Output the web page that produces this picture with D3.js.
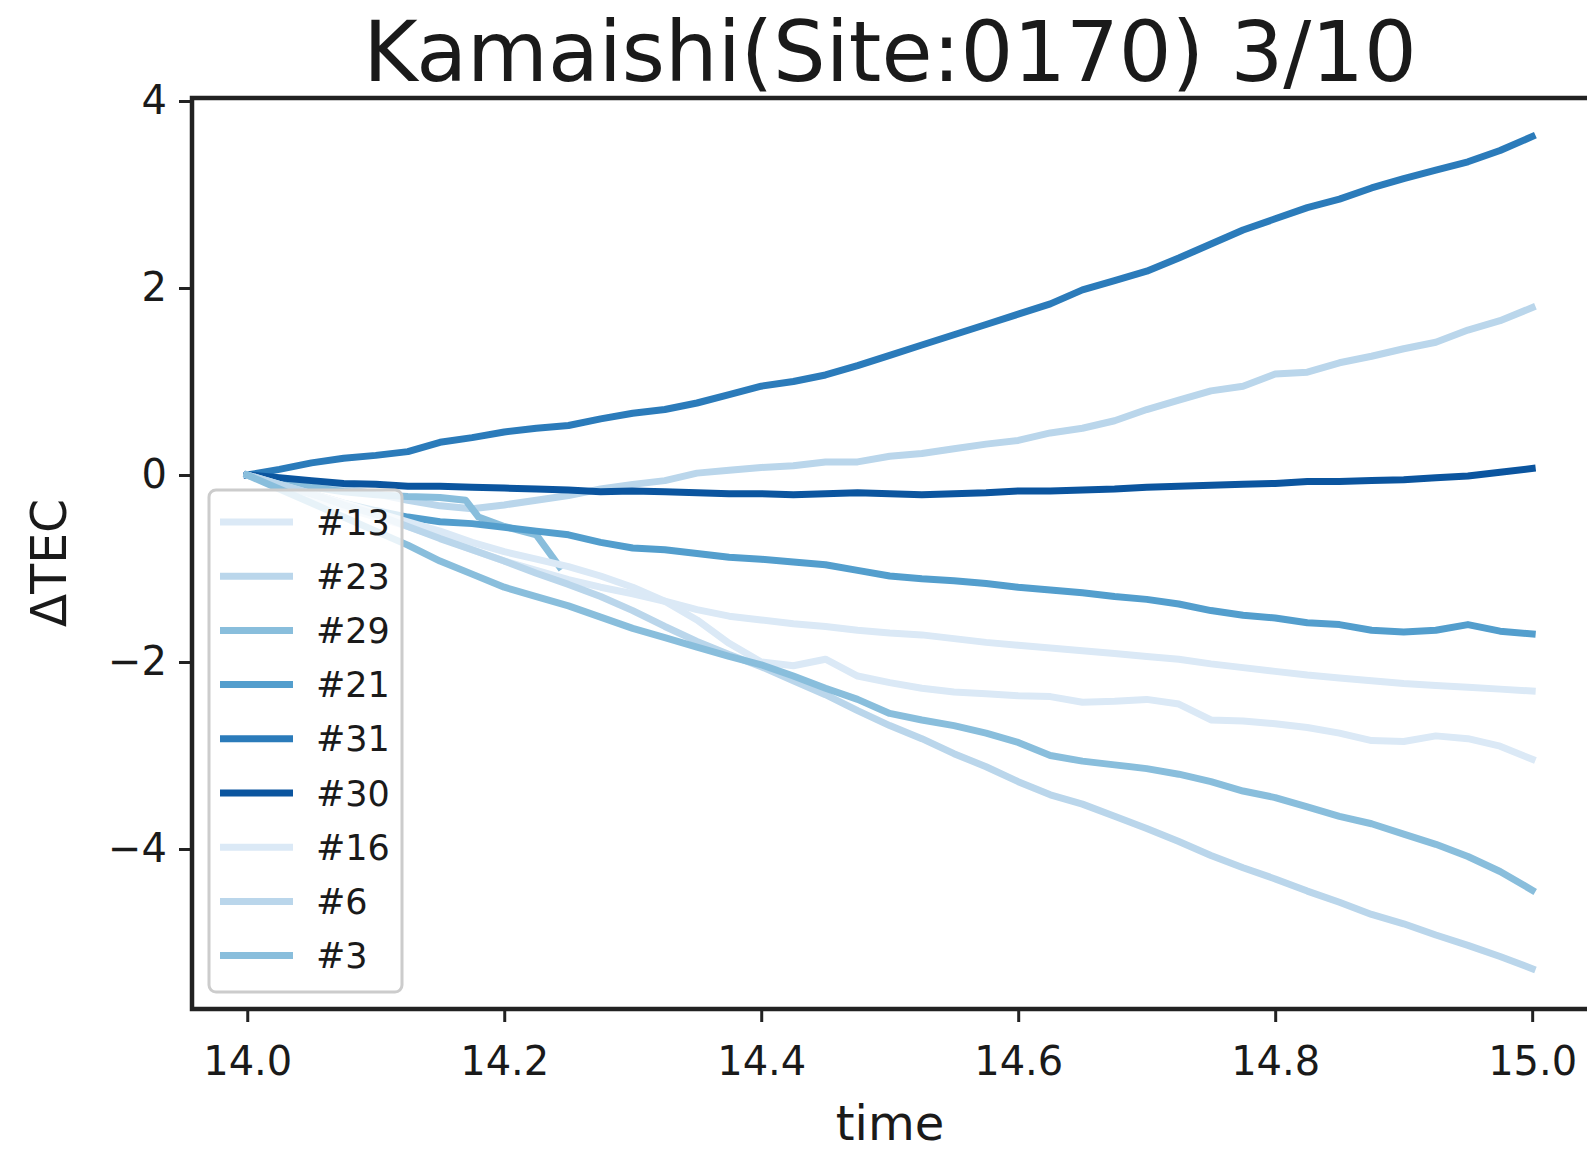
<!DOCTYPE html>
<html>
<head>
<meta charset="utf-8">
<script src="https://cdn.jsdelivr.net/npm/d3@7"></script>
<style>
  body { margin: 0; background: #fff; }
  text { font-family: "DejaVu Sans", sans-serif; fill: #1a1a1a; }
</style>
</head>
<body>
<div id="chart-area"></div>
<script>
// Kamaishi dTEC chart

const TITLE = "Kamaishi(Site:0170) 3/10";

// time grid (hours), 0.025 step
const times = d3.range(41).map(i => 14 + i * 0.025);

const sat13 = [0, -0.12, -0.24, -0.35, -0.45, -0.55, -0.67, -0.8, -0.92, -1.02, -1.12, -1.2, -1.27, -1.35, -1.44, -1.51, -1.55, -1.59, -1.62, -1.66, -1.69, -1.71, -1.75, -1.79, -1.82, -1.85, -1.88, -1.91, -1.94, -1.97, -2.02, -2.06, -2.1, -2.14, -2.17, -2.2, -2.23, -2.25, -2.27, -2.29, -2.31];
const sat23 = [0, -0.05, -0.1, -0.15, -0.2, -0.27, -0.33, -0.36, -0.32, -0.27, -0.22, -0.15, -0.1, -0.06, 0.02, 0.05, 0.08, 0.1, 0.14, 0.14, 0.2, 0.23, 0.28, 0.33, 0.37, 0.45, 0.5, 0.58, 0.7, 0.8, 0.9, 0.95, 1.08, 1.1, 1.2, 1.27, 1.35, 1.42, 1.55, 1.65, 1.79];
const sat29Times = [14.0, 14.025, 14.05, 14.075, 14.1, 14.125, 14.15, 14.17, 14.18, 14.2, 14.225, 14.243];
const sat29 = [0, -0.07, -0.13, -0.18, -0.21, -0.23, -0.24, -0.27, -0.45, -0.55, -0.64, -0.98];
const sat21 = [0, -0.1, -0.2, -0.3, -0.38, -0.45, -0.5, -0.52, -0.56, -0.6, -0.64, -0.72, -0.78, -0.8, -0.84, -0.88, -0.9, -0.93, -0.96, -1.02, -1.08, -1.11, -1.13, -1.16, -1.2, -1.23, -1.26, -1.3, -1.33, -1.38, -1.45, -1.5, -1.53, -1.58, -1.6, -1.66, -1.68, -1.66, -1.6, -1.67, -1.7];
const sat31 = [0, 0.06, 0.13, 0.18, 0.21, 0.25, 0.35, 0.4, 0.46, 0.5, 0.53, 0.6, 0.66, 0.7, 0.77, 0.86, 0.95, 1.0, 1.07, 1.17, 1.28, 1.39, 1.5, 1.61, 1.72, 1.83, 1.98, 2.08, 2.18, 2.32, 2.47, 2.62, 2.74, 2.86, 2.95, 3.07, 3.17, 3.26, 3.35, 3.47, 3.62];
const sat30 = [0, -0.03, -0.06, -0.09, -0.1, -0.12, -0.12, -0.13, -0.14, -0.15, -0.16, -0.18, -0.17, -0.18, -0.19, -0.2, -0.2, -0.21, -0.2, -0.19, -0.2, -0.21, -0.2, -0.19, -0.17, -0.17, -0.16, -0.15, -0.13, -0.12, -0.11, -0.1, -0.09, -0.07, -0.07, -0.06, -0.05, -0.03, -0.01, 0.03, 0.07];
const sat16 = [0, -0.1, -0.2, -0.3, -0.4, -0.5, -0.6, -0.72, -0.82, -0.9, -0.98, -1.08, -1.2, -1.35, -1.55, -1.8, -2.0, -2.04, -1.97, -2.15, -2.22, -2.28, -2.32, -2.34, -2.36, -2.37, -2.43, -2.42, -2.4, -2.45, -2.62, -2.63, -2.66, -2.7, -2.76, -2.84, -2.85, -2.79, -2.82, -2.9, -3.04];
const sat6 = [0, -0.1, -0.2, -0.32, -0.42, -0.55, -0.68, -0.8, -0.92, -1.05, -1.17, -1.3, -1.45, -1.62, -1.78, -1.92, -2.05, -2.2, -2.35, -2.52, -2.68, -2.82, -2.98, -3.12, -3.28, -3.42, -3.52, -3.65, -3.78, -3.92, -4.07, -4.2, -4.32, -4.45, -4.57, -4.7, -4.8, -4.92, -5.03, -5.15, -5.28];
const sat3 = [0, -0.15, -0.3, -0.45, -0.6, -0.75, -0.92, -1.06, -1.2, -1.3, -1.4, -1.52, -1.64, -1.74, -1.84, -1.94, -2.03, -2.15, -2.28, -2.4, -2.55, -2.62, -2.68, -2.76, -2.86, -3.0, -3.06, -3.1, -3.14, -3.2, -3.28, -3.38, -3.45, -3.55, -3.65, -3.73, -3.84, -3.95, -4.08, -4.24, -4.44];

const labels = ["#13", "#23", "#29", "#21", "#31", "#30", "#16", "#6", "#3"];
const palette = ["#dbe9f6", "#bad6eb", "#89bedc", "#539ecd", "#2b7bba", "#0b559f"];

const xTicks = [14.0, 14.2, 14.4, 14.6, 14.8, 15.0];
const yTicks = [-4, -2, 0, 2, 4];

const series = [
  { name: "#13", t: times, v: sat13 },
  { name: "#23", t: times, v: sat23 },
  { name: "#29", t: sat29Times, v: sat29 },
  { name: "#21", t: times, v: sat21 },
  { name: "#31", t: times, v: sat31 },
  { name: "#30", t: times, v: sat30 },
  { name: "#16", t: times, v: sat16 },
  { name: "#6", t: times, v: sat6 },
  { name: "#3", t: times, v: sat3 }
];

const W = 1587, H = 1149;
const MARGIN = { LEFT: 192, RIGHT: W - 1590, TOP: 98, BOTTOM: H - 1009 };
const WIDTH = W - MARGIN.LEFT - MARGIN.RIGHT;
const HEIGHT = H - MARGIN.TOP - MARGIN.BOTTOM;

const svg = d3.select("#chart-area").append("svg")
  .attr("width", W)
  .attr("height", H)
  .style("display", "block");

const g = svg.append("g")
  .attr("transform", `translate(${MARGIN.LEFT},${MARGIN.TOP})`);

const x = d3.scaleLinear()
  .domain([13.957, 15.045])
  .range([0, WIDTH]);

const y = d3.scaleLinear()
  .domain([-5.711, 4.032])
  .range([HEIGHT, 0]);

const color = d3.scaleOrdinal()
  .domain(labels)
  .range(labels.map((d, i) => palette[i % palette.length]));

// lines
const line = d3.line()
  .x(d => x(d[0]))
  .y(d => y(d[1]));

g.append("g").selectAll("path")
  .data(series)
  .enter().append("path")
  .attr("d", s => line(s.t.map((t, i) => [t, s.v[i]])))
  .attr("fill", "none")
  .attr("stroke", s => color(s.name))
  .attr("stroke-width", 7)
  .attr("stroke-linejoin", "round")
  .attr("stroke-linecap", "square");

// axes
const xAxisCall = d3.axisBottom(x)
  .tickValues(xTicks)
  .tickFormat(d3.format(".1f"))
  .tickSize(13)
  .tickPadding(25)
  .tickSizeOuter(0);

const yAxisCall = d3.axisLeft(y)
  .tickValues(yTicks)
  .tickFormat(d => d < 0 ? "\u2212" + Math.abs(d) : d)
  .tickSize(13)
  .tickPadding(12)
  .tickSizeOuter(0);

const xAxisGroup = g.append("g")
  .attr("transform", `translate(0,${HEIGHT})`)
  .call(xAxisCall);

const yAxisGroup = g.append("g")
  .call(yAxisCall);

[xAxisGroup, yAxisGroup].forEach(ax => {
  ax.select(".domain").remove();
  ax.selectAll(".tick line").attr("stroke", "#222").attr("stroke-width", 3);
  ax.selectAll(".tick text")
    .attr("font-size", "40px")
    .attr("font-family", "DejaVu Sans")
    .attr("fill", "#1a1a1a");
});

// spines
g.append("rect")
  .attr("x", 0)
  .attr("y", 0)
  .attr("width", WIDTH)
  .attr("height", HEIGHT)
  .attr("fill", "none")
  .attr("stroke", "#222")
  .attr("stroke-width", 4.5);

// legend
const legend = svg.append("g")
  .attr("transform", "translate(209,490)");

legend.append("rect")
  .attr("width", 193)
  .attr("height", 502)
  .attr("rx", 7)
  .attr("fill", "white")
  .attr("fill-opacity", 0.8)
  .attr("stroke", "#cccccc")
  .attr("stroke-width", 3);

labels.forEach((name, i) => {
  const row = legend.append("g")
    .attr("transform", `translate(0,${32 + i * 54.2})`);

  row.append("line")
    .attr("x1", 11)
    .attr("x2", 84)
    .attr("stroke", color(name))
    .attr("stroke-width", 7);

  row.append("text")
    .attr("x", 107)
    .attr("y", 0)
    .attr("dy", "0.36em")
    .attr("font-size", "35px")
    .text(name);
});

// labels
svg.append("text")
  .attr("x", 890)
  .attr("y", 81)
  .attr("font-size", "83px")
  .attr("text-anchor", "middle")
  .text(TITLE);

svg.append("text")
  .attr("x", 890)
  .attr("y", 1140)
  .attr("font-size", "48px")
  .attr("text-anchor", "middle")
  .text("time");

svg.append("text")
  .attr("transform", "translate(66,563) rotate(-90)")
  .attr("font-size", "49px")
  .attr("text-anchor", "middle")
  .text("\u0394TEC");
</script>
</body>
</html>
